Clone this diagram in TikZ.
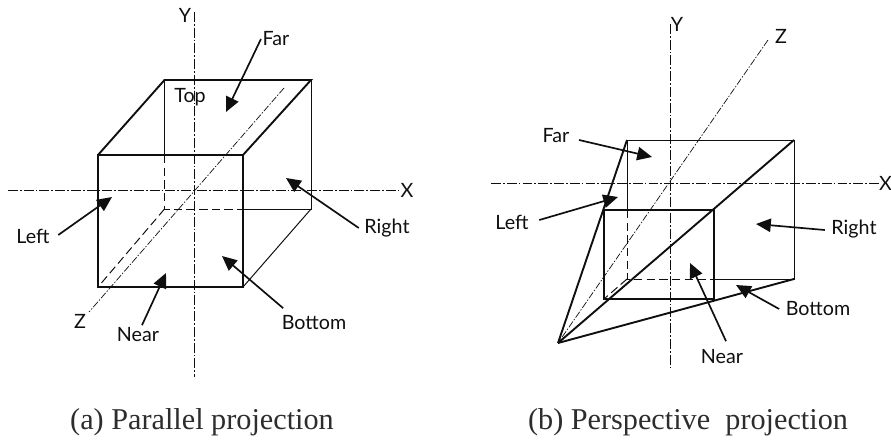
\documentclass[tikz,border=0pt]{standalone}
\usepackage{fontspec}
\newfontfamily\lblfont{Lato}
\newfontfamily\capfont{Liberation Serif}
\usetikzlibrary{positioning,arrows.meta,calc}
\definecolor{ink}{RGB}{15,15,15}
\definecolor{capink}{RGB}{45,45,45}
\tikzset{
  edge/.style={draw=ink, line width=1.35pt},
  hair/.style={draw=ink, line width=0.7pt},
  hid/.style={draw=ink, line width=0.7pt, dash pattern=on 6pt off 3pt},
  axis/.style={draw=ink, line width=0.6pt, dash pattern=on 7pt off 1.5pt on 1.2pt off 1.5pt},
  zaxis/.style={draw=ink, line width=0.5pt, dash pattern=on 5pt off 1.2pt on 1pt off 1.2pt},
  arr/.style={-{Stealth[length=10.5pt, width=9.5pt, inset=0pt]}, draw=ink, line width=1.2pt},
  lbl/.style={font=\lblfont\fontsize{14}{16}\selectfont, text=ink, inner sep=1pt},
  captext/.style={font=\capfont\fontsize{21.5}{24}\selectfont, text=capink, inner sep=0pt},
}
\begin{document}
\begin{tikzpicture}[x=0.025cm, y=-0.025cm]
  \useasboundingbox (0,0) rectangle (891,440);

  % ---- parallel projection ------------------------------------------
  \coordinate (pa) at (98,155);
  \coordinate (pb) at (243,155);
  \coordinate (pc) at (243,287);
  \coordinate (pd) at (98,287);
  \coordinate (qa) at (164.5,80);
  \coordinate (qb) at (311,80);
  \coordinate (qc) at (311,209);
  \coordinate (qd) at (164.5,209);
  \coordinate (qe) at (164.5,155);
  \coordinate (qf) at (243,209);
  % axes
  \coordinate (pyt) at (194,12);
  \coordinate (pyb) at (194,377);
  \coordinate (pxl) at (8,190);
  \coordinate (pxr) at (398,190);
  \coordinate (pzt) at (284,88);
  \coordinate (pzb) at (89,312);
  \draw[axis] (pyt) -- (pyb);
  \draw[axis] (pxl) -- (pxr);
  \draw[zaxis] (pzt) -- (pzb);
  % back and hidden edges
  \draw[hair] (qe) -- (qa) -- (qb) -- (qc) -- (qf);
  \draw[hair] (qc) -- (pc);
  \draw[hid] (qe) -- (qd) -- (qf);
  \draw[hid] (qd) -- (pd);
  % front face and top
  \draw[edge] (pa) rectangle (pc);
  \draw[edge] (pa) -- (qa) -- (qb) -- (pb);
  % labels
  \node[lbl] (py) at (185,15) {Y};
  \node[lbl] (px) at (407,190) {X};
  \node[lbl] (pz) at (80,321) {Z};
  \node[lbl] (ptop) at (190,97) {Top};
  \node[lbl] (pfar) at (276,39) {Far};
  \node[lbl] (pleft) at (33,236) {Left};
  \node[lbl] (pright) at (387,228) {Right};
  \node[lbl] (pbottom) at (314,323) {Bottom};
  \node[lbl] (pnear) at (138,335) {Near};
  % arrows
  \coordinate (pfart) at (226,112);
  \coordinate (plt) at (112,197);
  \coordinate (prt) at (286,178);
  \coordinate (pbt) at (222,256);
  \coordinate (pnt) at (166,273);
  \draw[arr] (pfar.west) -- (pfart);
  \draw[arr] ($(pleft.east)+(7,-1)$) -- (plt);
  \draw[arr] ($(pright.west)+(-4,0)$) -- (prt);
  \draw[arr] ($(pbottom.north west)+(3,-6)$) -- (pbt);
  \draw[arr] ($(pnear.north)+(4,-1)$) -- (pnt);
  \node[captext] (pcap) at (202,422) {(a) Parallel projection};

  % ---- perspective projection ---------------------------------------
  \coordinate (va) at (604,210);
  \coordinate (vb) at (714,210);
  \coordinate (vc) at (714,299);
  \coordinate (vd) at (604,299);
  \coordinate (wa) at (627,140);
  \coordinate (wb) at (794,140);
  \coordinate (wc) at (794,279);
  \coordinate (wd) at (627,279);
  \coordinate (we) at (627,210);
  \coordinate (wf) at (714,279);
  \coordinate (vp) at (558,343);
  % axes
  \coordinate (vyt) at (670,24);
  \coordinate (vyb) at (670,368);
  \coordinate (vxl) at (491,183);
  \coordinate (vxr) at (880,183);
  \coordinate (vzt) at (768,40);
  \draw[axis] (vyt) -- (vyb);
  \draw[axis] (vxl) -- (vxr);
  \draw[zaxis] (vzt) -- (vp);
  % back and hidden edges
  \draw[hair] (we) -- (wa) -- (wb) -- (wc) -- (wf);
  \draw[hid] (we) -- (wd) -- (wf);
  \draw[hid] (wd) -- (vd);
  % front face and rays
  \draw[edge] (va) rectangle (vc);
  \draw[edge] (vp) -- (wa);
  \draw[edge] (vp) -- (wb);
  \draw[edge] (vp) -- (wc);
  % labels
  \node[lbl] (vy) at (677,24) {Y};
  \node[lbl, inner sep=0pt] (vx) at (885.5,183) {X};
  \node[lbl] (vz) at (781,36) {Z};
  \node[lbl] (vfar) at (556,136) {Far};
  \node[lbl] (vleft) at (512,222) {Left};
  \node[lbl] (vright) at (854,229) {Right};
  \node[lbl] (vbottom) at (818,309) {Bottom};
  \node[lbl] (vnear) at (722,357) {Near};
  % arrows
  \coordinate (vfart) at (652,157);
  \coordinate (vlt) at (618,197);
  \coordinate (vrt) at (756,224);
  \coordinate (vbt) at (736,285);
  \coordinate (vnt) at (690,263);
  \draw[arr] ($(vfar.east)+(8,4)$) -- (vfart);
  \draw[arr] ($(vleft.east)+(9,-2)$) -- (vlt);
  \draw[arr] ($(vright.west)+(-5,1)$) -- (vrt);
  \draw[arr] ($(vbottom.west)+(-5,0)$) -- (vbt);
  \draw[arr] ($(vnear.north)+(4,-7)$) -- (vnt);
  \node[captext] (vcap) at (688,422) {(b) Perspective\ \ projection};
\end{tikzpicture}
\end{document}
